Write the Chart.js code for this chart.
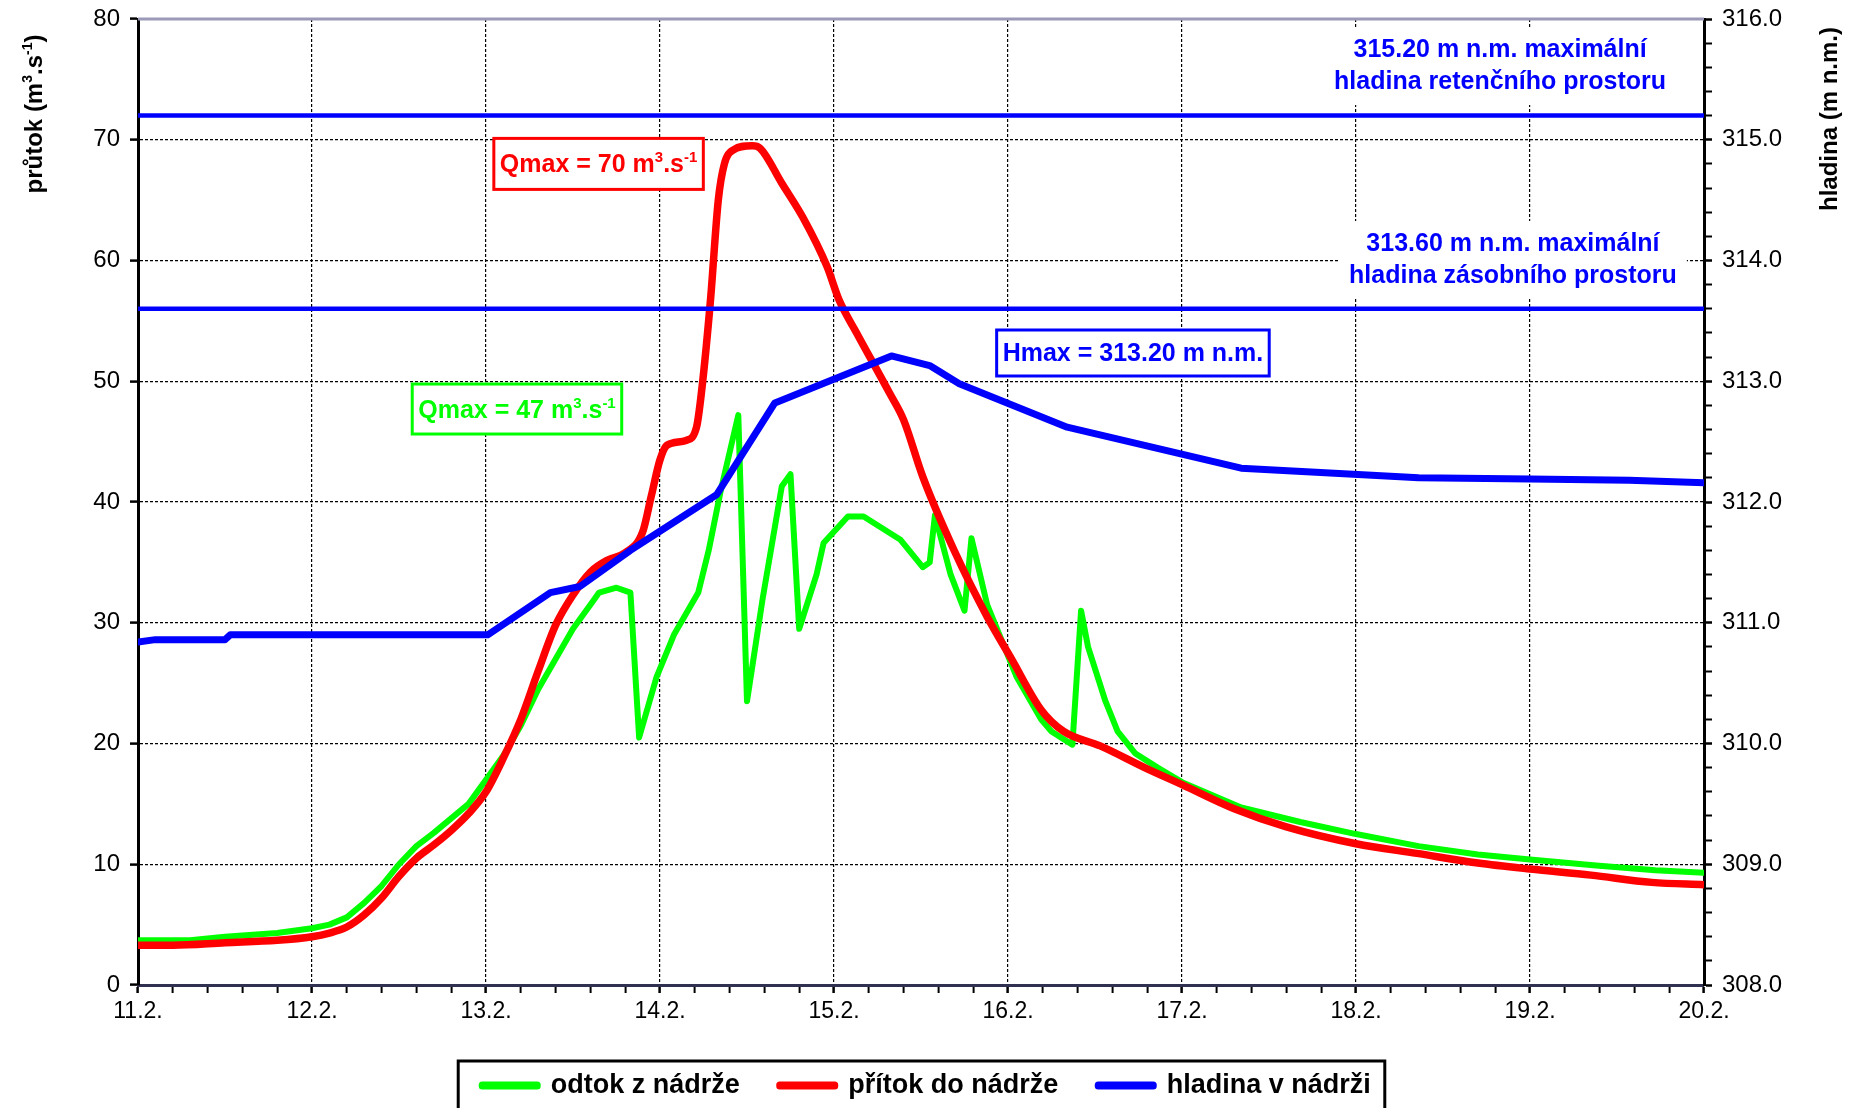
<!DOCTYPE html>
<html lang="cs">
<head>
<meta charset="utf-8">
<title>Průtok a hladina v nádrži</title>
<script src="https://cdn.jsdelivr.net/npm/chart.js@4.4.1/dist/chart.umd.min.js"></script>
<style>
  html, body { margin: 0; padding: 0; background: #fff; }
  #graf { display: block; }
</style>
</head>
<body>
<canvas id="graf" width="1853" height="1108"></canvas>
<script>
// popisky dnu na ose x (0 = 11.2.)
const dny = ['11.2.', '12.2.', '13.2.', '14.2.', '15.2.', '16.2.', '17.2.', '18.2.', '19.2.', '20.2.'];

// odtok z nadrze - cas ve dnech od 11.2., prutok m3/s
const odtokCas = [0, 0.3, 0.5, 0.8, 1.0, 1.1, 1.2, 1.3, 1.4, 1.5, 1.6, 1.7, 1.8, 1.9, 2.0, 2.1, 2.2, 2.3, 2.4, 2.5,
  2.6, 2.65, 2.75, 2.83, 2.88, 2.98, 3.08, 3.22, 3.28, 3.35, 3.45, 3.50, 3.59, 3.70, 3.75, 3.80, 3.90, 3.94,
  4.08, 4.17, 4.38, 4.51, 4.55, 4.58, 4.67, 4.75, 4.79, 4.88, 5.05, 5.19, 5.25, 5.37, 5.42, 5.46, 5.56, 5.63,
  5.73, 5.86, 6.0, 6.34, 6.68, 7.0, 7.36, 7.7, 8.0, 8.38, 8.72, 9.0];
const odtokQ = [3.7, 3.7, 4.0, 4.3, 4.7, 5.0, 5.6, 6.8, 8.2, 10.0, 11.5, 12.6, 13.8, 15.0, 17.0, 19.0, 21.5, 24.5, 27.0, 29.5,
  31.5, 32.5, 32.9, 32.5, 20.5, 25.5, 29.0, 32.5, 36.0, 41.0, 47.2, 23.5, 32.0, 41.3, 42.3, 29.5, 34.0, 36.6,
  38.8, 38.8, 36.9, 34.6, 35.0, 38.9, 34.0, 31.0, 37.0, 31.5, 25.5, 22.0, 21.0, 19.9, 31.0, 28.0, 23.5, 21.0,
  19.2, 18.0, 16.8, 14.7, 13.5, 12.5, 11.5, 10.8, 10.4, 9.9, 9.5, 9.3];

// pritok do nadrze
const pritokCas = [0, 0.2, 0.5, 0.8, 1.0, 1.1, 1.2, 1.3, 1.4, 1.5, 1.6, 1.7, 1.8, 1.9, 2.0, 2.1, 2.2, 2.3, 2.4, 2.5,
  2.6, 2.7, 2.8, 2.9, 2.95, 3.0, 3.04, 3.15, 3.21, 3.24, 3.29, 3.335, 3.37, 3.42, 3.53, 3.575, 3.70, 3.82, 3.96,
  4.03, 4.13, 4.32, 4.40, 4.51, 4.69, 4.88, 5.02, 5.19, 5.32, 5.53, 5.80, 6.0, 6.3, 6.6, 7.0, 7.35, 7.7, 8.0,
  8.35, 8.7, 9.0];
const pritokQ = [3.3, 3.3, 3.5, 3.7, 4.0, 4.3, 4.8, 5.8, 7.2, 9.0, 10.5, 11.6, 12.8, 14.2, 16.0, 18.8, 22.0, 26.0, 29.8, 32.3,
  34.2, 35.2, 35.8, 37.5, 40.5, 43.5, 44.7, 45.1, 46.2, 49.3, 56.7, 65.0, 68.0, 69.15, 69.5, 69.3, 66.4, 63.6, 59.5,
  56.7, 54.0, 49.0, 46.8, 42.1, 36.0, 30.5, 27.0, 22.8, 21.0, 19.8, 17.9, 16.6, 14.6, 13.1, 11.7, 10.9, 10.1, 9.6,
  9.1, 8.5, 8.3];

// hladina v nadrzi (m n.m.)
const hladinaCas = [0, 0.1, 0.5, 0.53, 2.01, 2.37, 2.54, 2.83, 3.325, 3.66, 4.33, 4.55, 4.72, 5.34, 6.34, 7.36, 8.0, 8.57, 9.0];
const hladinaH = [310.84, 310.86, 310.86, 310.9, 310.9, 311.25, 311.3, 311.6, 312.06, 312.82, 313.21, 313.13, 312.98,
  312.62, 312.28, 312.2, 312.19, 312.18, 312.16];

// maximalni hladiny (retencni, zasobni prostor)
const hladinyMax = [315.2, 313.6];

const PISMO = '"Liberation Sans", Arial, sans-serif';
const ZELENA = '#00ff00';
const CERVENA = '#ff0000';
const MODRA = '#0000ff';

// popisky v grafu, pozice v jednotkach os (x = dny, q = prutok)
const popiskyRamecek = [
  { t: 2.647, q: 68.0, barva: CERVENA, vyska: 51, casti: [['Qmax = 70 m'], ['3', 1], ['.s'], ['-1', 1]] },
  { t: 2.178, q: 47.7, barva: ZELENA, vyska: 50, casti: [['Qmax = 47 m'], ['3', 1], ['.s'], ['-1', 1]] },
  { t: 5.718, q: 52.34, barva: MODRA, vyska: 46, casti: [['Hmax = 313.20 m n.m.']] }
];
const popiskyHladin = [
  { t: 7.828, q: 77.43, radky: ['315.20 m n.m. maximální', 'hladina retenčního prostoru'] },
  { t: 7.902, q: 61.37, radky: ['313.60 m n.m. maximální', 'hladina zásobního prostoru'] }
];

function body(xs, ys) {
  return xs.map((x, i) => ({ x: x, y: ys[i] }));
}

function jeCele(v) {
  return Math.abs(v - Math.round(v)) < 1e-6;
}

function sirkaCasti(ctx, casti, vel) {
  let w = 0;
  casti.forEach(c => {
    ctx.font = 'bold ' + (c[1] ? Math.round(vel * 0.6) : vel) + 'px ' + PISMO;
    w += ctx.measureText(c[0]).width;
  });
  return w;
}

// x = levy okraj, y = uctaria (baseline)
function kresliCasti(ctx, casti, x, y, vel) {
  let cx = x;
  ctx.textBaseline = 'alphabetic';
  ctx.textAlign = 'left';
  casti.forEach(c => {
    ctx.font = 'bold ' + (c[1] ? Math.round(vel * 0.6) : vel) + 'px ' + PISMO;
    ctx.fillText(c[0], cx, c[1] ? y - vel * 0.4 : y);
    cx += ctx.measureText(c[0]).width;
  });
}

const kresleni = {
  id: 'kresleni',
  beforeDraw(chart) {
    const ctx = chart.ctx;
    ctx.save();
    ctx.fillStyle = '#fff';
    ctx.fillRect(0, 0, chart.width, chart.height);
    ctx.restore();
  },
  afterDatasetsDraw(chart) {
    const ctx = chart.ctx;
    const sx = chart.scales.x;
    const sy = chart.scales.y;
    ctx.save();

    // texty u maximalnich hladin
    popiskyHladin.forEach(p => {
      const cx = sx.getPixelForValue(p.t);
      const cy = sy.getPixelForValue(p.q);
      ctx.font = 'bold 25px ' + PISMO;
      const w = Math.max(...p.radky.map(r => ctx.measureText(r).width));
      ctx.fillStyle = '#fff';
      ctx.fillRect(cx - w / 2 - 10, cy - 23, w + 20, 32 + 46);
      ctx.fillStyle = MODRA;
      ctx.textAlign = 'center';
      ctx.textBaseline = 'middle';
      p.radky.forEach((r, i) => ctx.fillText(r, cx, cy + i * 32));
    });

    // ramecky s maximy
    popiskyRamecek.forEach(p => {
      const cx = sx.getPixelForValue(p.t);
      const cy = sy.getPixelForValue(p.q);
      const w = sirkaCasti(ctx, p.casti, 25);
      const bw = w + 12;
      ctx.fillStyle = '#fff';
      ctx.fillRect(cx - bw / 2, cy - p.vyska / 2, bw, p.vyska);
      ctx.strokeStyle = p.barva;
      ctx.lineWidth = 3;
      ctx.strokeRect(cx - bw / 2, cy - p.vyska / 2, bw, p.vyska);
      ctx.fillStyle = p.barva;
      kresliCasti(ctx, p.casti, cx - w / 2, cy + 8.5, 25);
    });
    ctx.restore();
  },
  afterDraw(chart) {
    const ctx = chart.ctx;
    const a = chart.chartArea;
    ctx.save();

    // horni okraj plochy grafu
    ctx.strokeStyle = '#9a9ab8';
    ctx.lineWidth = 3;
    ctx.beginPath();
    ctx.moveTo(a.left, a.top);
    ctx.lineTo(a.right, a.top);
    ctx.stroke();

    // ramecek legendy
    const lg = chart.legend;
    const hb = lg.legendHitBoxes;
    if (hb && hb.length) {
      const posl = hb[hb.length - 1];
      const l = hb[0].left - 24;
      const r = posl.left + posl.width + 14;
      ctx.strokeStyle = '#000';
      ctx.lineWidth = 3;
      ctx.strokeRect(l, lg.top + 29, r - l, 100);
    }

    // nazvy os
    ctx.fillStyle = '#000';
    const levy = [['průtok (m'], ['3', 1], ['.s'], ['-1', 1], [')']];
    ctx.translate(42, 114);
    ctx.rotate(-Math.PI / 2);
    kresliCasti(ctx, levy, -sirkaCasti(ctx, levy, 24) / 2, 0, 24);
    ctx.setTransform(1, 0, 0, 1, 0, 0);
    const pravy = [['hladina (m n.m.)']];
    ctx.translate(1837, 119);
    ctx.rotate(-Math.PI / 2);
    kresliCasti(ctx, pravy, -sirkaCasti(ctx, pravy, 24) / 2, 0, 24);
    ctx.restore();
  }
};

const spolecneCary = { pointRadius: 0, pointHoverRadius: 0, borderJoinStyle: 'round', borderCapStyle: 'round', fill: false };

new Chart(document.getElementById('graf').getContext('2d'), {
  type: 'line',
  data: {
    datasets: [
      Object.assign({
        label: 'odtok z nádrže', data: body(odtokCas, odtokQ), yAxisID: 'y',
        borderColor: ZELENA, backgroundColor: ZELENA, borderWidth: 6, tension: 0, order: 3
      }, spolecneCary),
      Object.assign({
        label: 'přítok do nádrže', data: body(pritokCas, pritokQ), yAxisID: 'y',
        borderColor: CERVENA, backgroundColor: CERVENA, borderWidth: 7.5, cubicInterpolationMode: 'monotone', order: 2
      }, spolecneCary),
      Object.assign({
        label: 'hladina v nádrži', data: body(hladinaCas, hladinaH), yAxisID: 'y2',
        borderColor: MODRA, backgroundColor: MODRA, borderWidth: 7, tension: 0, order: 1
      }, spolecneCary),
      ...hladinyMax.map(h => Object.assign({
        label: 'max ' + h, data: [{ x: 0, y: h }, { x: 9, y: h }], yAxisID: 'y2',
        borderColor: MODRA, backgroundColor: MODRA, borderWidth: 4.5, tension: 0, order: 0
      }, spolecneCary))
    ]
  },
  options: {
    responsive: false,
    animation: false,
    devicePixelRatio: 1,
    layout: { padding: { top: 19, left: 0, right: 0, bottom: 0 } },
    plugins: {
      tooltip: { enabled: false },
      legend: {
        position: 'bottom',
        maxHeight: 76,
        labels: {
          color: '#000',
          font: { family: PISMO, size: 27, weight: 'bold' },
          boxWidth: 55,
          boxHeight: 1,
          padding: 40,
          filter: item => item.datasetIndex < 3,
          sort: (a, b) => a.datasetIndex - b.datasetIndex,
          generateLabels(chart) {
            const polozky = Chart.defaults.plugins.legend.labels.generateLabels(chart);
            polozky.forEach(p => { p.lineWidth = 7; p.lineJoin = 'round'; p.lineCap = 'round'; });
            return polozky;
          }
        }
      }
    },
    scales: {
      x: {
        type: 'linear', min: 0, max: 9,
        afterFit: s => { s.height = 47; },
        ticks: {
          stepSize: 0.2, autoSkip: false, maxRotation: 0, padding: 5, color: '#000',
          font: { family: PISMO, size: 23 },
          callback: v => jeCele(v) ? dny[Math.round(v)] : ''
        },
        grid: {
          color: c => (jeCele(c.tick.value) && c.tick.value > 0 && c.tick.value < 9) ? '#000' : 'rgba(0,0,0,0)',
          lineWidth: 1.2, tickColor: '#000', tickLength: 8,
          tickWidth: c => jeCele(c.tick.value) ? 2.5 : 2
        },
        border: { color: '#303050', width: 3, dash: [3, 2] }
      },
      y: {
        position: 'left', min: 0, max: 80,
        afterFit: s => { s.width = 138; s.paddingTop = 0; },
        ticks: { stepSize: 10, padding: 10, color: '#000', font: { family: PISMO, size: 24 } },
        grid: {
          color: c => (c.tick.value > 0 && c.tick.value < 80) ? '#000' : 'rgba(0,0,0,0)',
          lineWidth: 1.2, tickColor: '#000', tickLength: 8, tickWidth: 2.5
        },
        border: { color: '#000', width: 3, dash: [3, 2] }
      },
      y2: {
        position: 'right', min: 308, max: 316,
        afterFit: s => { s.width = 149; s.paddingTop = 0; },
        ticks: {
          stepSize: 0.2, autoSkip: false, padding: 10, color: '#000',
          font: { family: PISMO, size: 24 },
          callback: v => jeCele(v) ? Number(v).toFixed(1) : ''
        },
        grid: {
          drawOnChartArea: false, tickColor: '#000', tickLength: 8,
          tickWidth: c => jeCele(c.tick.value) ? 2.5 : 2
        },
        border: { color: '#000', width: 3 }
      }
    }
  },
  plugins: [kresleni]
});
</script>
</body>
</html>
